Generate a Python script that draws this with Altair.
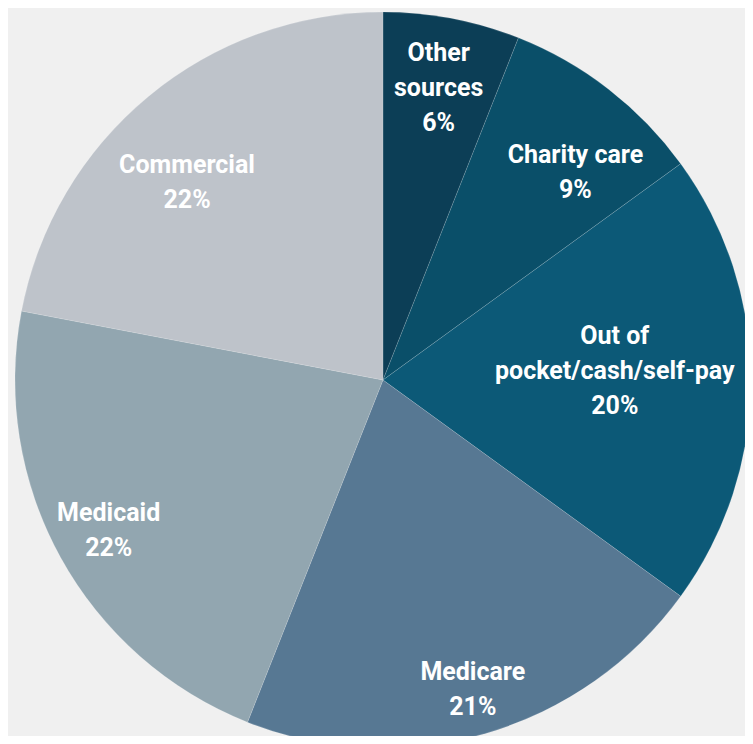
import altair as alt
import pandas as pd

categories = ["Other sources", "Charity care", "Out of pocket/cash/self-pay",
              "Medicare", "Medicaid", "Commercial"]
label_lines = ["Other\nsources", "Charity care", "Out of\npocket/cash/self-pay",
               "Medicare", "Medicaid", "Commercial"]
shares = [6, 9, 20, 21, 22, 22]
colors = ["#0c3e56", "#0a4f69", "#0c5977", "#577893", "#92a6b0", "#bec3ca"]

df = pd.DataFrame({
    "source": categories,
    "label": [f"{l}\n{v}%" for l, v in zip(label_lines, shares)],
    "share": shares,
    "order": list(range(len(categories))),
})

W, H = 737, 728
cx, cy, R = 375, 372, 368
LH = 35

theta_scale = alt.Scale(domain=[0, 100], range=[0, 6.283185307179586])

base = alt.Chart(df).transform_window(
    cum="sum(share)", sort=[alt.SortField("order", order="ascending")],
    frame=[None, 0],
).transform_calculate(
    start="datum.cum - datum.share",
    # label placement: slice middle with small nudges like the original layout
    mid="datum.cum - datum.share / 2 + (datum.source == 'Charity care' ? 1.4 : (datum.source == 'Commercial' ? -1.45 : (datum.source == 'Out of pocket/cash/self-pay' ? -0.65 : 0)))",
    r="datum.source == 'Out of pocket/cash/self-pay' ? 232 : (datum.source == 'Medicare' ? 322 : (datum.source == 'Medicaid' ? 313 : (datum.source == 'Other sources' ? 297 : (datum.source == 'Charity care' ? 283 : 278))))",
    nlines="length(split(datum.label, '\\n'))",
)

pie = base.mark_arc(radius=R, stroke="#ffffff", strokeWidth=0.4, strokeOpacity=0.35).encode(
    theta=alt.Theta("start:Q", scale=theta_scale),
    theta2="cum:Q",
    x=alt.value(cx),
    y=alt.value(cy),
    color=alt.Color("source:N", scale=alt.Scale(domain=categories, range=colors), legend=None),
)

def label_layer(n):
    return base.transform_filter(f"datum.nlines == {n}").mark_text(
        font="Roboto",
        fontWeight="bold",
        fontSize=25,
        lineBreak="\n",
        lineHeight=LH,
        color="white",
        align="center",
        baseline="middle",
        dy=-(n - 1) * LH / 2,
    ).encode(
        theta=alt.Theta("mid:Q", scale=theta_scale),
        x=alt.value(cx),
        y=alt.value(cy),
        radius=alt.Radius("r:Q", scale=None),
        text="label:N",
    )

chart = (pie + label_layer(2) + label_layer(3)).properties(
    width=W, height=H, background="#f0f0f0",
    autosize=alt.AutoSizeParams(type="none"), padding=0,
).configure_view(stroke=None)

chart.save("out.html", embed_options={"renderer": "svg", "actions": False})
